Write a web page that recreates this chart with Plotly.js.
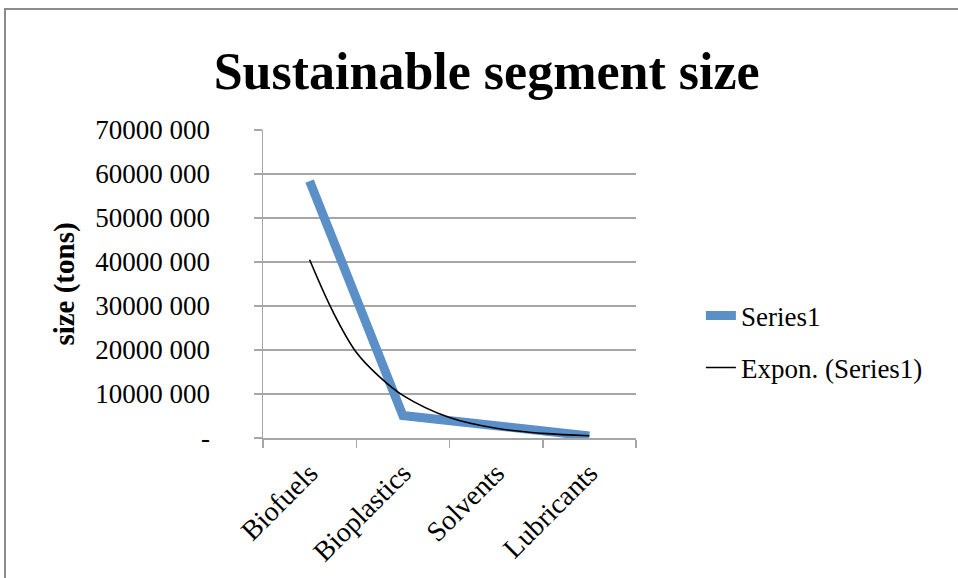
<!DOCTYPE html>
<html>
<head>
<meta charset="utf-8">
<script src="https://cdn.plot.ly/plotly-3.0.1.min.js"></script>
<style>
  html, body { margin: 0; padding: 0; overflow: hidden; background: #fff; }
  #chart { width: 958px; height: 578px; position: absolute; left: 0; top: 0; }
  #frame { position: absolute; left: 4px; top: 8px; width: 2000px; height: 2000px;
           border-left: 2px solid #8c8c8c; border-top: 2px solid #8c8c8c; pointer-events: none; }
</style>
</head>
<body>
<div id="chart"></div>
<div id="frame"></div>
<script>
// ---- data ----
const categories = ["Biofuels", "Bioplastics", "Solvents", "Lubricants"];
const series1 = [58400000, 5100000, 2800000, 450000];
// exponential trendline as drawn in the reference (position along category axis, value)
const trendPos = [0, 0.25, 0.5, 0.75, 1, 1.5, 2, 2.5, 3];
const trendVals = [40500000, 28700000, 19500000, 13900000, 9700000, 4650000, 2200000, 1050000, 500000];
const yTickVals = [0, 10000000, 20000000, 30000000, 40000000, 50000000, 60000000, 70000000];
const yTickText = ["-", "10000 000", "20000 000", "30000 000", "40000 000", "50000 000", "60000 000", "70000 000"];

const FONT = "Liberation Serif, Times New Roman, serif";
const GRID = "#a6a6a6";

const traces = [
  {
    x: categories, y: series1, type: "scatter", mode: "lines", name: "Series1",
    line: { color: "#5b8fc8", width: 9 }, xaxis: "x", yaxis: "y", legendgroup: "a"
  },
  {
    x: trendPos, y: trendVals, type: "scatter", mode: "lines", name: "Expon. (Series1)",
    line: { color: "#000000", width: 1.6, shape: "spline" }, xaxis: "x2", yaxis: "y", legendgroup: "b"
  }
];

const layout = {
  width: 958, height: 578,
  margin: { l: 263, r: 322, t: 130, b: 140 },
  paper_bgcolor: "#ffffff", plot_bgcolor: "#ffffff",
  font: { family: FONT, color: "#000", size: 26 },
  title: {
    text: "<b>Sustainable segment size</b>",
    font: { family: FONT, size: 52, color: "#000" },
    x: 0.508, xref: "container", y: 0.877, yref: "container", xanchor: "center", yanchor: "middle"
  },
  xaxis: {
    type: "category", categoryorder: "array", categoryarray: categories,
    range: [-0.5, 3.5], tickson: "boundaries", ticks: "outside", ticklen: 8, tickwidth: 1.5,
    tickcolor: GRID, showline: true, linecolor: GRID, linewidth: 1.5, showgrid: false,
    tickangle: -45, tickfont: { family: FONT, size: 28 }, ticklabelstandoff: 6, fixedrange: true
  },
  xaxis2: {
    overlaying: "x", range: [-0.5, 3.5], visible: false, fixedrange: true
  },
  yaxis: {
    range: [0, 70000000], tickvals: yTickVals, ticktext: yTickText,
    ticks: "outside", ticklen: 8, tickwidth: 1.5, tickcolor: GRID,
    showline: true, linecolor: GRID, linewidth: 1.5,
    showgrid: true, gridcolor: GRID, gridwidth: 1.5, zeroline: false,
    tickfont: { family: FONT, size: 27 }, ticklabelstandoff: 38,
    title: { text: "<b>size (tons)</b>", font: { family: FONT, size: 29 }, standoff: 12 },
    fixedrange: true
  },
  showlegend: true,
  legend: {
    x: 1.174, xanchor: "left", y: 0.476, yanchor: "top",
    font: { family: FONT, size: 27 }, bgcolor: "rgba(0,0,0,0)",
    tracegroupgap: 14, traceorder: "grouped"
  }
};

Plotly.newPlot("chart", traces, layout, { displayModeBar: false, staticPlot: true });
</script>
</body>
</html>
